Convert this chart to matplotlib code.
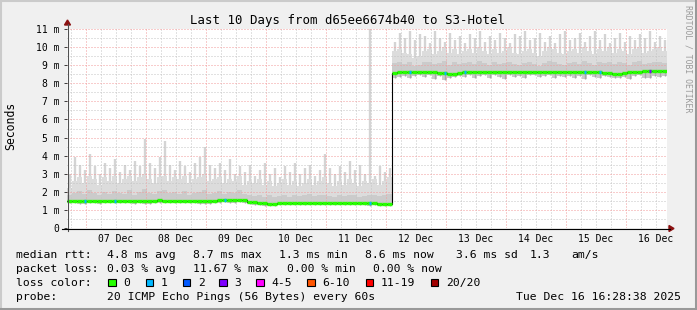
import numpy as np
import matplotlib
matplotlib.use("Agg")
import matplotlib.pyplot as plt
import matplotlib.patches as patches
from matplotlib.lines import Line2D
from matplotlib.ticker import FixedLocator, MultipleLocator
from datetime import datetime

W, H = 697, 310
plt.rcParams["font.family"] = "DejaVu Sans Mono"

# time axis: 10 days ending at the graph timestamp, 2 hour columns
t0 = datetime(2025, 12, 6, 16, 28, 38)
hours = np.arange(0, 240, 2)
day_numbers = list(range(7, 17))
day_labels = ["07 Dec", "08 Dec", "09 Dec", "10 Dec", "11 Dec",
              "12 Dec", "13 Dec", "14 Dec", "15 Dec", "16 Dec"]

# median rtt per column (ms)
median_ms = [
    1.50, 1.51, 1.49, 1.48, 1.50, 1.50, 1.47, 1.50, 1.51, 1.50,
    1.50, 1.51, 1.50, 1.49, 1.50, 1.48, 1.47, 1.51, 1.53, 1.52,
    1.50, 1.50, 1.51, 1.50, 1.50, 1.51, 1.49, 1.47, 1.47, 1.49,
    1.53, 1.54, 1.54, 1.53, 1.54, 1.53, 1.42, 1.41, 1.40, 1.36,
    1.35, 1.35, 1.37, 1.38, 1.38, 1.37, 1.38, 1.38, 1.37, 1.38,
    1.38, 1.37, 1.38, 1.38, 1.37, 1.38, 1.37, 1.38, 1.37, 1.37,
    1.36, 1.36, 1.35, 1.35, 1.34, 8.55, 8.60, 8.62, 8.61, 8.62,
    8.62, 8.61, 8.62, 8.60, 8.58, 8.55, 8.53, 8.54, 8.57, 8.60,
    8.62, 8.62, 8.61, 8.62, 8.63, 8.62, 8.62, 8.61, 8.63, 8.62,
    8.62, 8.61, 8.60, 8.62, 8.62, 8.61, 8.62, 8.63, 8.62, 8.61,
    8.62, 8.61, 8.60, 8.60, 8.61, 8.60, 8.60, 8.59, 8.55, 8.52,
    8.52, 8.55, 8.60, 8.62, 8.64, 8.66, 8.66, 8.66, 8.66, 8.66,
]

# smallest ping per column (ms)
min_ms = [
    1.36, 1.38, 1.35, 1.33, 1.37, 1.36, 1.32, 1.37, 1.38, 1.36,
    1.37, 1.38, 1.36, 1.35, 1.37, 1.34, 1.33, 1.38, 1.40, 1.39,
    1.37, 1.36, 1.38, 1.37, 1.36, 1.38, 1.35, 1.33, 1.34, 1.36,
    1.40, 1.41, 1.40, 1.39, 1.41, 1.40, 1.30, 1.29, 1.28, 1.24,
    1.23, 1.24, 1.26, 1.27, 1.25, 1.26, 1.27, 1.25, 1.26, 1.27,
    1.26, 1.25, 1.27, 1.26, 1.25, 1.27, 1.26, 1.25, 1.26, 1.25,
    1.24, 1.25, 1.23, 1.24, 1.22, 8.30, 8.35, 8.42, 8.28, 8.40,
    8.45, 8.33, 8.44, 8.25, 8.38, 8.20, 8.30, 8.36, 8.41, 8.32,
    8.44, 8.29, 8.40, 8.46, 8.31, 8.43, 8.37, 8.22, 8.45, 8.34,
    8.40, 8.27, 8.43, 8.46, 8.33, 8.39, 8.44, 8.30, 8.41, 8.36,
    8.42, 8.31, 8.38, 8.26, 8.44, 8.35, 8.29, 8.40, 8.33, 8.28,
    8.30, 8.34, 8.25, 8.39, 8.44, 8.31, 8.27, 8.42, 8.36, 8.40,
]

# top of the dense (darker) smoke band (ms)
dense_ms = [
    1.85, 1.95, 2.05, 1.90, 2.10, 1.95, 1.85, 2.00, 1.90, 2.05,
    1.95, 1.90, 2.10, 1.85, 2.00, 2.15, 1.95, 1.90, 2.05, 2.10,
    1.95, 2.00, 1.90, 2.05, 1.85, 1.95, 2.00, 2.10, 1.90, 1.95,
    2.05, 1.90, 2.00, 1.95, 2.10, 1.90, 1.80, 1.75, 1.85, 1.70,
    1.80, 1.70, 1.75, 1.85, 1.70, 1.80, 1.75, 1.85, 1.90, 1.75,
    1.80, 1.85, 1.75, 1.70, 1.80, 1.75, 1.85, 1.80, 1.70, 1.75,
    1.80, 1.85, 1.75, 1.80, 1.90, 9.10, 9.20, 9.05, 9.15, 8.95,
    9.00, 9.15, 9.20, 9.05, 9.10, 9.25, 9.00, 9.15, 9.05, 9.10,
    9.20, 9.05, 9.25, 9.10, 9.00, 9.15, 9.05, 9.10, 9.20, 9.05,
    9.00, 9.10, 9.20, 9.05, 8.95, 9.10, 9.25, 9.15, 9.05, 9.00,
    9.10, 9.20, 9.05, 9.25, 9.10, 9.00, 9.15, 9.10, 9.20, 9.05,
    9.15, 9.10, 9.00, 9.15, 9.25, 9.05, 9.10, 9.15, 9.20, 9.10,
]

# top of the light smoke body (ms)
body_ms = [
    2.2, 2.6, 2.8, 2.5, 2.9, 2.7, 2.4, 2.8, 2.6, 2.9,
    2.5, 2.7, 2.9, 2.6, 2.8, 3.0, 2.7, 2.5, 2.8, 2.9,
    2.6, 2.8, 2.7, 2.9, 2.5, 2.7, 2.8, 3.0, 2.6, 2.7,
    2.8, 2.5, 2.7, 2.6, 2.9, 2.4, 2.6, 2.5, 2.7, 2.4,
    2.6, 2.3, 2.5, 2.7, 2.4, 2.6, 2.3, 2.5, 2.7, 2.4,
    2.6, 2.8, 2.5, 2.3, 2.6, 2.4, 2.7, 2.5, 2.3, 2.6,
    2.5, 2.7, 2.4, 2.6, 2.8, 9.8, 9.9, 9.7, 9.6, 9.4,
    9.5, 9.8, 9.9, 9.6, 9.8, 10.0, 9.7, 9.9, 9.6, 9.8,
    9.9, 9.7, 10.0, 9.8, 9.6, 9.9, 9.7, 9.8, 10.0, 9.7,
    9.6, 9.8, 9.9, 9.7, 9.5, 9.8, 10.0, 9.9, 9.7, 9.6,
    9.8, 9.9, 9.7, 10.0, 9.8, 9.6, 9.9, 9.8, 10.0, 9.7,
    9.9, 9.8, 9.6, 9.9, 10.0, 9.7, 9.8, 9.9, 10.0, 9.8,
]

# largest ping per column (ms)
max_ms = [
    3.0, 3.9, 3.5, 3.2, 4.1, 3.4, 3.0, 3.6, 3.3, 3.8,
    3.1, 3.5, 3.2, 3.7, 3.4, 4.9, 3.6, 3.3, 3.9, 4.8,
    3.5, 3.2, 3.7, 3.4, 3.1, 3.6, 3.9, 4.5, 3.5, 3.3,
    3.6, 3.2, 3.8, 3.0, 3.4, 3.1, 3.5, 2.9, 3.2, 3.6,
    3.0, 3.3, 2.8, 3.4, 3.1, 3.6, 3.0, 3.3, 3.5, 2.9,
    3.2, 4.1, 3.3, 3.0, 3.4, 3.1, 3.7, 3.2, 3.5, 3.0,
    11.0, 2.9, 3.4, 3.1, 3.3, 10.3, 10.8, 10.5, 10.9, 10.4,
    10.7, 10.6, 10.2, 10.9, 10.5, 10.3, 10.8, 10.4, 10.6, 10.2,
    10.7, 10.5, 10.9, 10.3, 10.6, 10.4, 10.8, 10.5, 10.2, 10.7,
    10.6, 10.9, 10.4, 10.5, 10.8, 10.3, 10.6, 10.2, 10.7, 10.9,
    10.4, 10.5, 10.8, 10.3, 10.6, 10.9, 10.4, 10.7, 10.2, 10.5,
    10.8, 10.3, 10.6, 10.4, 10.7, 10.5, 10.9, 10.3, 10.6, 10.4,
]

# columns with packet loss and the number of lost pings
loss_cols = [3, 9, 31, 60, 68, 75, 79, 103, 106, 116]
loss_counts = [1, 1, 1, 1, 1, 1, 1, 1, 1, 3]

loss_names = ["0", "1", "2", "3", "4-5", "6-10", "11-19", "20/20"]
loss_colors = ["#26ff00", "#00b8ff", "#0059ff", "#7e00ff",
               "#ff00ff", "#ff5500", "#ff0000", "#a10000"]
loss_color_of = {1: loss_colors[1], 2: loss_colors[2], 3: loss_colors[3]}

rtt_stats = ["4.8 ms avg", "8.7 ms max", "1.3 ms min", "8.6 ms now",
             "3.6 ms sd", "1.3", "am/s"]
loss_stats = ["0.03 % avg", "11.67 % max", "0.00 % min", "0.00 % now"]

median_ms = np.array(median_ms)
min_ms = np.array(min_ms)
dense_ms = np.array(dense_ms)
body_ms = np.array(body_ms)
max_ms = np.array(max_ms)


def fx(x):
    return x / W


def fy(y):
    return 1 - y / H


fig = plt.figure(figsize=(W / 100, H / 100), dpi=100, facecolor="#f0f0f0")
ax = fig.add_axes([fx(67), fy(228), 600 / W, 199 / H])
ax.set_facecolor("white")

# smoke
ax.bar(hours, body_ms - min_ms, bottom=min_ms, width=2, align="edge",
       color="#dcdcdc", linewidth=0, zorder=1)
ax.bar(hours, dense_ms - min_ms, bottom=min_ms, width=2, align="edge",
       color="#cbcbcb", linewidth=0, zorder=1.1)
ax.vlines(hours + 1, body_ms, max_ms, color="#d4d4d4", linewidth=1.7, zorder=1.2)
ax.vlines(hours + 1, min_ms, median_ms, color="#a8a8a8", linewidth=1.0, zorder=1.3)

# median line
ax.step(np.append(hours, 240), np.append(median_ms, median_ms[-1]), where="post",
        color="black", linewidth=0.8, zorder=3)
ax.hlines(median_ms, hours, hours + 2, color=loss_colors[0], linewidth=2.4, zorder=4)
for c, n in zip(loss_cols, loss_counts):
    ax.hlines(median_ms[c], hours[c] + 0.6, hours[c] + 1.4, color=loss_color_of[n],
              linewidth=2.4, zorder=5)

# axes / grid
midnights = [(datetime(2025, 12, d) - t0).total_seconds() / 3600 for d in day_numbers]
six_hours = [m + k * 6 for m in [midnights[0] - 24] + midnights for k in range(4)]
six_hours = [h for h in six_hours if 0 < h < 240]

ax.set_xlim(0, 240)
ax.set_ylim(0, 11)
ax.xaxis.set_major_locator(FixedLocator(midnights))
ax.xaxis.set_minor_locator(FixedLocator(six_hours))
ax.yaxis.set_major_locator(MultipleLocator(1))
ax.yaxis.set_minor_locator(MultipleLocator(0.5))
ax.set_axisbelow(False)
ax.grid(which="major", color="#f39a9a", linestyle=(0, (1, 2)), linewidth=0.72)
ax.grid(which="minor", color="#c4c4c4", linestyle=(0, (1, 2)), linewidth=0.72)
for s in ax.spines.values():
    s.set_visible(False)

ax.set_yticks(range(12))
ax.set_yticklabels(["0"] + [f"{i} m" for i in range(1, 12)], fontsize=7)
ax.tick_params(axis="y", which="major", length=2, width=0.72, color="#404040", pad=3.5)
ax.tick_params(axis="y", which="minor", length=0)
ax.tick_params(axis="x", which="both", length=0, labelbottom=False)

for m, lab in zip(midnights, day_labels):
    x = 67 + (m + 12) * 2.5
    fig.text(fx(x), fy(241.5), lab, ha="center", va="baseline", fontsize=7)

# axis lines with arrow heads
fig.add_artist(Line2D([fx(67.5), fx(67.5)], [fy(231), fy(24)], color="#505050", linewidth=0.8))
fig.add_artist(Line2D([fx(62), fx(670)], [fy(228.5), fy(228.5)], color="black", linewidth=0.8))
fig.add_artist(patches.Polygon([(fx(64.5), fy(25)), (fx(70.5), fy(25)), (fx(67.5), fy(20))],
                               closed=True, transform=fig.transFigure, color="#8b1010"))
fig.add_artist(patches.Polygon([(fx(669), fy(225.5)), (fx(669), fy(231.5)), (fx(674), fy(228.5))],
                               closed=True, transform=fig.transFigure, color="#8b1010"))

# frame shading
fig.add_artist(Line2D([0, 1], [fy(1), fy(1)], color="#cbcbcb", linewidth=1.5))
fig.add_artist(Line2D([fx(1), fx(1)], [0, 1], color="#cbcbcb", linewidth=1.5))
fig.add_artist(Line2D([0, 1], [fy(308.5), fy(308.5)], color="#999999", linewidth=2.2))
fig.add_artist(Line2D([fx(695.5), fx(695.5)], [0, 1], color="#999999", linewidth=2.2))

# titles
fig.text(fx(348), fy(24), "Last 10 Days from d65ee6674b40 to S3-Hotel",
         ha="center", va="baseline", fontsize=8.9)
fig.text(fx(11), fy(126), "Seconds", rotation=90, ha="center", va="center", fontsize=8.3)
fig.text(fx(688), fy(59), "RRDTOOL / TOBI OETIKER", rotation=270, ha="center",
         va="center", fontsize=5.9, color="#9a9a9a")

# legend
fs = 8.2
fig.text(fx(16), fy(258), "median rtt:", fontsize=fs, va="baseline")
for x, s in zip([107.3, 193, 279, 365, 456, 530, 571.7], rtt_stats):
    fig.text(fx(x), fy(258), s, fontsize=fs, va="baseline")

fig.text(fx(16), fy(272), "packet loss:", fontsize=fs, va="baseline")
for x, s in zip([107.3, 192.7, 286.7, 372.7], loss_stats):
    fig.text(fx(x), fy(272), s, fontsize=fs, va="baseline")

fig.text(fx(16), fy(286), "loss color:", fontsize=fs, va="baseline")
for x, name, col in zip([108.3, 145.7, 182.7, 219.3, 256, 307.3, 365.7, 430.7],
                        loss_names, loss_colors):
    fig.add_artist(patches.Rectangle((fx(x), fy(286)), 7.5 / W, 7.5 / H,
                                     transform=fig.transFigure, facecolor=col,
                                     edgecolor="black", linewidth=0.8))
    fig.text(fx(x + 15), fy(286), name, fontsize=fs, va="baseline")

fig.text(fx(16), fy(300), "probe:", fontsize=fs, va="baseline")
fig.text(fx(107.3), fy(300), "20 ICMP Echo Pings (56 Bytes) every 60s", fontsize=fs, va="baseline")
fig.text(fx(681), fy(300), "Tue Dec 16 16:28:38 2025", fontsize=fs, va="baseline", ha="right")

fig.savefig("out.png", dpi=100, facecolor=fig.get_facecolor())
